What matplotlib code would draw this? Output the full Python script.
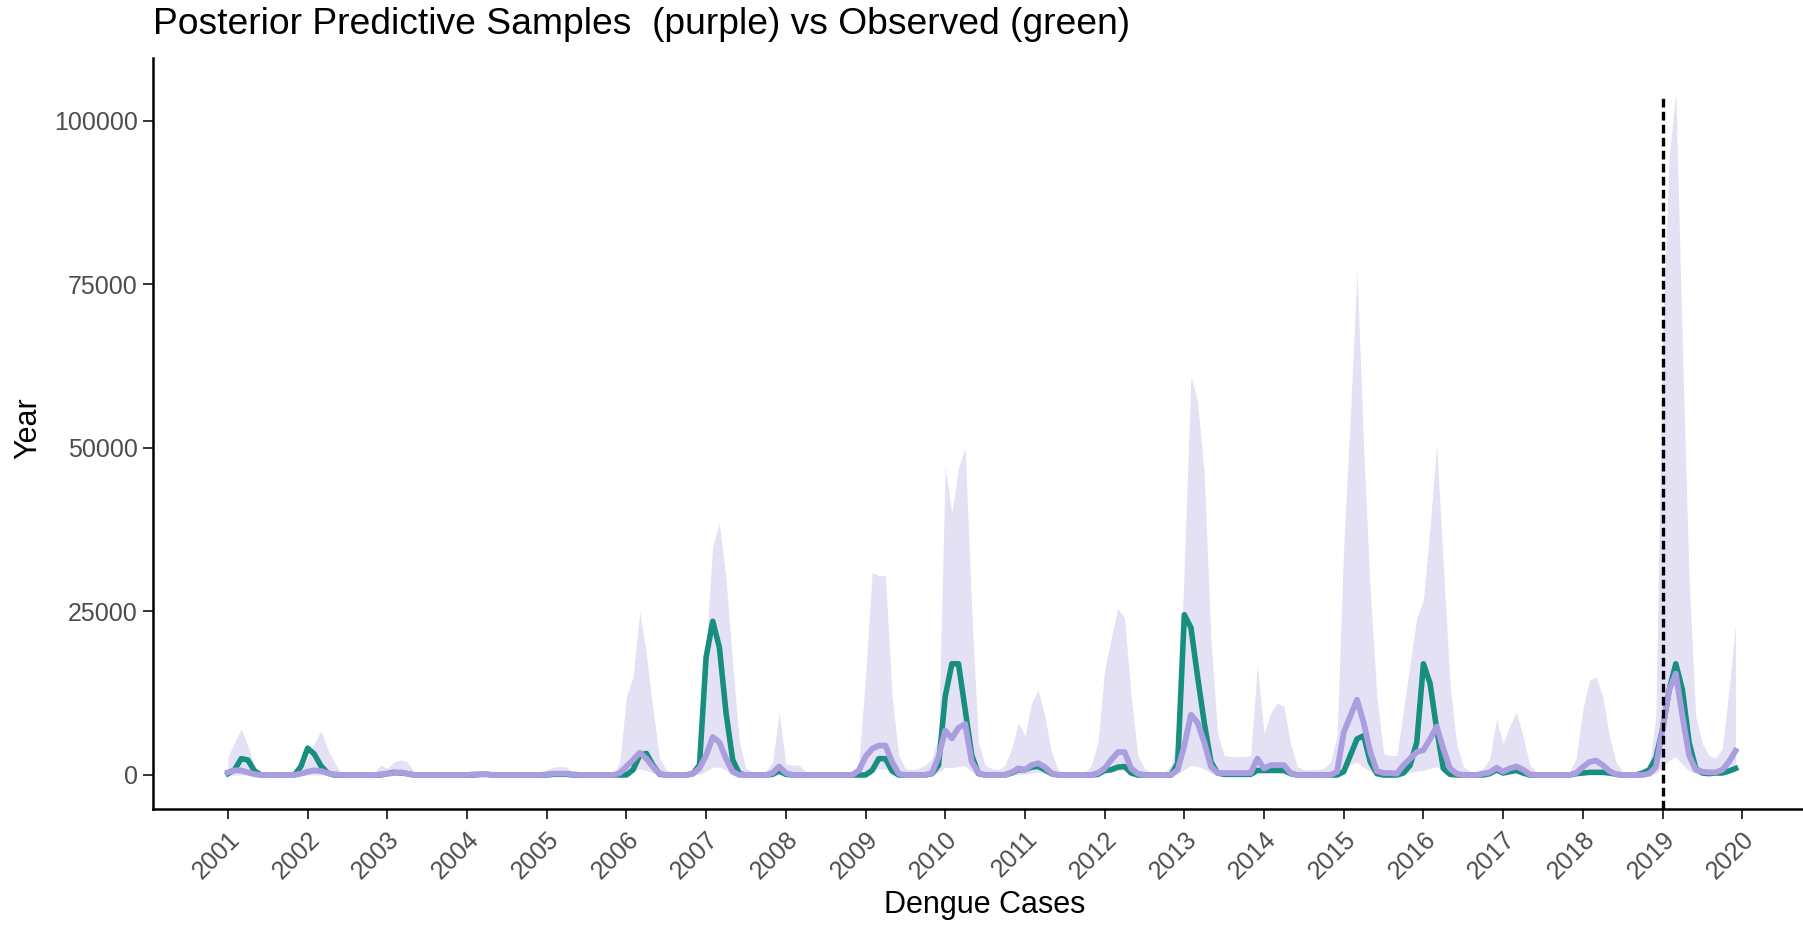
import numpy as np
import matplotlib
matplotlib.use("Agg")
import matplotlib.pyplot as plt
from matplotlib.transforms import ScaledTranslation

plt.rcParams['font.family'] = ['Liberation Sans', 'DejaVu Sans']

# monthly series, Jan 2001 .. Dec 2019 (one row per year)
years = list(range(2001, 2020))

observed = [
    [200, 800, 2500, 2300, 600, 0, 0, 0, 0, 0, 0, 1300],          # 2001
    [4100, 3200, 1400, 300, 0, 0, 0, 0, 0, 0, 0, 0],             # 2002
    [200, 400, 300, 200, 0, 0, 0, 0, 0, 0, 0, 0],                # 2003
    [0, 0, 100, 100, 0, 0, 0, 0, 0, 0, 0, 0],                    # 2004
    [0, 100, 100, 100, 0, 0, 0, 0, 0, 0, 0, 0],                  # 2005
    [0, 800, 3000, 3300, 1500, 100, 0, 0, 0, 0, 200, 1500],      # 2006
    [18000, 23500, 19500, 9500, 2300, 200, 0, 0, 0, 0, 100, 600],  # 2007
    [100, 0, 0, 0, 0, 0, 0, 0, 0, 0, 0, 0],                      # 2008
    [0, 700, 2500, 2500, 600, 0, 0, 0, 0, 0, 200, 1500],         # 2009
    [12000, 17000, 17000, 10000, 3000, 200, 0, 0, 0, 0, 300, 800],  # 2010
    [800, 1200, 1300, 800, 200, 0, 0, 0, 0, 0, 0, 100],          # 2011
    [700, 800, 1200, 1300, 300, 0, 0, 0, 0, 0, 0, 1800],         # 2012
    [24500, 22500, 15000, 8000, 2000, 300, 100, 100, 100, 100, 100, 700],  # 2013
    [700, 700, 700, 700, 200, 0, 0, 0, 0, 0, 0, 0],              # 2014
    [500, 3000, 5500, 6000, 2000, 200, 0, 0, 0, 300, 1500, 5000],  # 2015
    [17000, 14000, 7000, 1000, 100, 0, 0, 0, 0, 0, 200, 800],    # 2016
    [300, 500, 700, 300, 0, 0, 0, 0, 0, 0, 0, 200],              # 2017
    [300, 400, 400, 400, 300, 100, 0, 0, 0, 300, 800, 2600],     # 2018
    [7000, 13000, 17000, 13000, 5000, 1000, 300, 200, 300, 300, 600, 1000],  # 2019
]

median = [
    [400, 700, 700, 400, 100, 0, 0, 0, 0, 0, 0, 200],
    [500, 700, 600, 300, 100, 0, 0, 0, 0, 0, 0, 100],
    [200, 300, 400, 200, 0, 0, 0, 0, 0, 0, 0, 0],
    [0, 100, 100, 100, 0, 0, 0, 0, 0, 0, 0, 0],
    [100, 200, 200, 200, 100, 0, 0, 0, 0, 0, 0, 300],
    [1300, 2300, 3400, 2500, 1200, 200, 0, 0, 0, 0, 200, 1000],
    [3000, 5800, 5000, 2500, 500, 0, 0, 0, 0, 0, 300, 1300],
    [300, 0, 0, 0, 0, 0, 0, 0, 0, 0, 0, 700],
    [2800, 4000, 4500, 4500, 2000, 200, 0, 0, 0, 0, 300, 2800],
    [6800, 5600, 7200, 7800, 2000, 300, 0, 0, 0, 0, 400, 1000],
    [800, 1500, 1800, 1200, 300, 0, 0, 0, 0, 0, 0, 300],
    [1000, 2300, 3500, 3500, 1000, 200, 0, 0, 0, 0, 0, 800],
    [4500, 9200, 8000, 5000, 1300, 300, 300, 300, 300, 300, 300, 2500],
    [1000, 1500, 1500, 1500, 300, 0, 0, 0, 0, 0, 0, 500],
    [6500, 9000, 11500, 8000, 3500, 600, 300, 300, 200, 1500, 2500, 3500],
    [3800, 5500, 7400, 4000, 1000, 200, 0, 0, 0, 200, 400, 1100],
    [500, 1000, 1300, 800, 100, 0, 0, 0, 0, 0, 0, 300],
    [1200, 2000, 2200, 1500, 600, 100, 0, 0, 0, 0, 200, 1200],
    [7000, 13000, 15500, 9000, 3000, 800, 500, 400, 400, 800, 2000, 3700],
]

upper = [
    [2800, 5000, 7000, 4500, 1500, 200, 0, 0, 0, 0, 100, 500],
    [2500, 4800, 6800, 4000, 2000, 300, 0, 0, 0, 0, 200, 1500],
    [1000, 2000, 2300, 2000, 500, 0, 0, 0, 0, 0, 0, 0],
    [0, 100, 200, 200, 100, 0, 0, 0, 0, 0, 0, 0],
    [800, 1200, 1300, 1200, 300, 0, 0, 0, 0, 0, 0, 2000],
    [12000, 15000, 25000, 18500, 10000, 2500, 800, 200, 100, 200, 1000, 3000],
    [20000, 35000, 38500, 30000, 17000, 5000, 1000, 500, 300, 500, 2000, 9500],
    [1700, 1500, 1500, 500, 0, 0, 0, 0, 0, 0, 0, 2000],
    [15000, 31000, 30500, 30500, 12000, 3000, 1000, 800, 1000, 1500, 2500, 6000],
    [47000, 40000, 47000, 50000, 25000, 5000, 1500, 1000, 800, 1500, 4000, 8000],
    [6000, 11000, 13000, 9000, 3500, 800, 200, 100, 100, 300, 1500, 5000],
    [16000, 21000, 25500, 24000, 12000, 3000, 1000, 300, 200, 300, 1500, 6000],
    [32000, 61000, 57000, 46000, 21000, 6400, 3000, 2800, 2800, 2800, 3000, 16800],
    [6400, 9500, 11000, 10500, 4800, 1300, 800, 800, 800, 1000, 2000, 6000],
    [35000, 55000, 77000, 50000, 28000, 12000, 3300, 3000, 3000, 10000, 17000, 24000],
    [26800, 38000, 50500, 32000, 14000, 4800, 1300, 500, 500, 1000, 2500, 8500],
    [4800, 7500, 9600, 6000, 1500, 500, 200, 100, 100, 200, 500, 2500],
    [10000, 14500, 15000, 12000, 6000, 2000, 500, 200, 200, 300, 1200, 9000],
    [67000, 94500, 104400, 65000, 30000, 9000, 4800, 3000, 2600, 4000, 13000, 23000],
]

lower = [
    [0] * 12,
    [0] * 12,
    [0] * 12,
    [0] * 12,
    [0] * 12,
    [300, 600, 900, 700, 300, 0, 0, 0, 0, 0, 0, 100],
    [600, 1200, 1200, 700, 200, 0, 0, 0, 0, 0, 0, 200],
    [0] * 12,
    [500, 800, 900, 900, 400, 0, 0, 0, 0, 0, 0, 400],
    [1200, 1100, 1300, 1400, 500, 0, 0, 0, 0, 0, 0, 100],
    [100, 300, 400, 200, 0, 0, 0, 0, 0, 0, 0, 0],
    [200, 400, 700, 700, 200, 0, 0, 0, 0, 0, 0, 200],
    [800, 1500, 1300, 900, 300, 0, 0, 0, 0, 0, 0, 400],
    [200, 300, 300, 300, 0, 0, 0, 0, 0, 0, 0, 100],
    [900, 1500, 2000, 1200, 500, 100, 0, 0, 0, 200, 400, 600],
    [700, 1000, 1300, 600, 200, 0, 0, 0, 0, 0, 0, 200],
    [100, 200, 300, 100, 0, 0, 0, 0, 0, 0, 0, 0],
    [200, 400, 400, 300, 100, 0, 0, 0, 0, 0, 0, 200],
    [1200, 2200, 2800, 1600, 600, 200, 100, 100, 100, 100, 300, 600],
]

split_year = 2019
tick_years = list(range(2001, 2021))

t = np.array([y + m / 12 for y in years for m in range(12)])
obs = np.concatenate(observed)
med = np.concatenate(median)
hi = np.concatenate(upper)
lo = np.concatenate(lower)

W, H = 1803, 926
fig = plt.figure(figsize=(W / 100, H / 100), dpi=100)
ax = fig.add_axes([153 / W, (H - 809) / H, (W - 153) / W, (809 - 58) / H])

ax.fill_between(t, lo, hi, color='#E4E1F5', linewidth=0, zorder=1)
ax.plot(t, obs, color='#178E7E', linewidth=4.0, zorder=3)
ax.plot(t, med, color='#AA9EDF', linewidth=4.2, zorder=4)
ax.vlines(split_year, -5200, 103500, colors='black', linewidth=2.4,
          linestyles=(0, (2.6, 1.3)), zorder=5)

ax.set_xlim(2000.06, 2000.06 + (W - 153) / 79.7)
ax.set_ylim(-5200, 109600)

ax.set_xticks(tick_years)
ax.set_xticklabels([str(y) for y in tick_years], rotation=45,
                   ha='right', va='top', rotation_mode='anchor')
# nudge the slanted year labels to the right of their ticks
shift = ScaledTranslation(8 / 100, 0, fig.dpi_scale_trans)
for lab in ax.get_xticklabels():
    lab.set_transform(lab.get_transform() + shift)
ax.set_yticks([0, 25000, 50000, 75000, 100000])
ax.set_yticklabels(['0', '25000', '50000', '75000', '100000'])

for side in ['top', 'right']:
    ax.spines[side].set_visible(False)
for side in ['left', 'bottom']:
    ax.spines[side].set_linewidth(1.8)
    ax.spines[side].set_color('black')

ax.tick_params(axis='both', length=7, width=1.4, color='#333333',
               labelcolor='#4D4D4D', labelsize=18)
ax.tick_params(axis='y', pad=4)
ax.tick_params(axis='x', pad=6)

ax.set_xlabel('Dengue Cases', fontsize=22, va='center')
ax.xaxis.set_label_coords((985 - 153) / (W - 153), (809 - 905) / (809 - 58))
ax.set_ylabel('Year', fontsize=22, va='center', ha='center')
ax.yaxis.set_label_coords((28 - 153) / (W - 153), (809 - 428) / (809 - 58))

fig.text(153 / W, 1 - 24 / H, 'Posterior Predictive Samples  (purple) vs Observed (green)',
         fontsize=26.8, ha='left', va='center')

fig.savefig('out.png', dpi=100)
